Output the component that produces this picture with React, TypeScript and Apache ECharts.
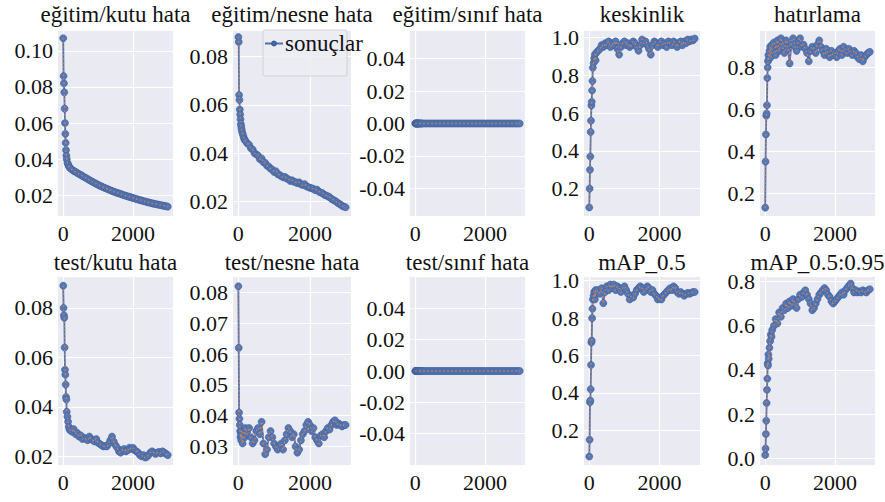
import React, { useEffect, useRef } from 'react';
import * as echarts from 'echarts';

// ---------- data ----------
const X = [
  0, 10, 20, 30, 40, 50, 60, 70, 80, 90, 100, 120, 140, 160, 180, 200,
  250, 300, 350, 400, 450, 500, 550, 600, 650, 700, 750, 800, 850, 900, 950, 1000,
  1050, 1100, 1150, 1200, 1250, 1300, 1350, 1400, 1450, 1500, 1550, 1600, 1650, 1700, 1750, 1800,
  1850, 1900, 1950, 2000, 2050, 2100, 2150, 2200, 2250, 2300, 2350, 2400, 2450, 2500, 2550, 2600,
  2650, 2700, 2750, 2800, 2850, 2900, 2950, 3000,
];

const trainBoxLoss = [
  0.107, 0.086, 0.082, 0.077, 0.068, 0.060, 0.054, 0.049, 0.045, 0.042, 0.040, 0.038, 0.037, 0.0362, 0.0355, 0.035,
  0.0342, 0.0335, 0.033, 0.0324, 0.0318, 0.0313, 0.0307, 0.0301, 0.0296, 0.029, 0.0284, 0.0279, 0.0273, 0.0268, 0.0263, 0.0258,
  0.0253, 0.0249, 0.0244, 0.024, 0.0236, 0.0232, 0.0228, 0.0224, 0.022, 0.0217, 0.0213, 0.021, 0.0207, 0.0203, 0.02, 0.0197,
  0.0194, 0.0191, 0.0188, 0.0185, 0.0182, 0.0179, 0.0176, 0.0173, 0.0171, 0.0168, 0.0165, 0.0163, 0.016, 0.0158, 0.0155, 0.0153,
  0.0151, 0.0149, 0.0147, 0.0145, 0.0143, 0.0141, 0.0139, 0.0137,
];

const trainObjLoss = [
  0.088, 0.086, 0.064, 0.062, 0.058, 0.056, 0.054, 0.052, 0.051, 0.050, 0.049, 0.048, 0.047, 0.046, 0.0455, 0.045,
  0.044, 0.0435, 0.042, 0.0415, 0.040, 0.0395, 0.039, 0.0375, 0.0378, 0.0362, 0.036, 0.0348, 0.0345, 0.0335, 0.0332, 0.0322,
  0.0325, 0.0313, 0.031, 0.0305, 0.030, 0.0302, 0.0295, 0.0292, 0.0285, 0.0288, 0.0282, 0.028, 0.0276, 0.0279, 0.0271, 0.0268,
  0.0272, 0.0263, 0.026, 0.0257, 0.0255, 0.0252, 0.0247, 0.0249, 0.0241, 0.0237, 0.0235, 0.0228, 0.0225, 0.0222, 0.0218, 0.0211,
  0.0207, 0.0203, 0.0198, 0.0192, 0.0188, 0.0182, 0.0179, 0.0176,
];

const trainClsLoss = [
  0, 0, 0, 0, 0, 0, 0, 0, 0, 0, 0, 0, 0, 0, 0, 0,
  0, 0, 0, 0, 0, 0, 0, 0, 0, 0, 0, 0, 0, 0, 0, 0,
  0, 0, 0, 0, 0, 0, 0, 0, 0, 0, 0, 0, 0, 0, 0, 0,
  0, 0, 0, 0, 0, 0, 0, 0, 0, 0, 0, 0, 0, 0, 0, 0,
  0, 0, 0, 0, 0, 0, 0, 0,
];

const precision = [
  0.10, 0.20, 0.30, 0.37, 0.50, 0.56, 0.64, 0.66, 0.72, 0.77, 0.84, 0.865, 0.89, 0.91, 0.88, 0.92,
  0.93, 0.94, 0.96, 0.95, 0.97, 0.96, 0.98, 0.95, 0.97, 0.96, 0.98, 0.94, 0.91, 0.95, 0.97, 0.98,
  0.96, 0.97, 0.95, 0.96, 0.98, 0.97, 0.95, 0.93, 0.96, 0.99, 0.97, 0.98, 0.96, 0.94, 0.91, 0.96,
  0.98, 0.97, 0.95, 0.97, 0.98, 0.96, 0.97, 0.95, 0.98, 0.97, 0.96, 0.98, 0.97, 0.95, 0.97, 0.98,
  0.96, 0.98, 0.97, 0.99, 0.98, 0.99, 0.985, 0.995,
];

const recall = [
  0.13, 0.35, 0.48, 0.57, 0.58, 0.62, 0.75, 0.80, 0.83, 0.86, 0.84, 0.88, 0.90, 0.85, 0.89, 0.91,
  0.92, 0.86, 0.93, 0.88, 0.94, 0.90, 0.87, 0.93, 0.89, 0.82, 0.91, 0.94, 0.90, 0.88, 0.92, 0.94,
  0.90, 0.91, 0.89, 0.87, 0.83, 0.88, 0.90, 0.89, 0.87, 0.91, 0.93, 0.90, 0.88, 0.86, 0.89, 0.87,
  0.85, 0.88, 0.86, 0.87, 0.85, 0.88, 0.89, 0.86, 0.90, 0.88, 0.87, 0.89, 0.87, 0.86, 0.88, 0.87,
  0.85, 0.84, 0.86, 0.83, 0.85, 0.86, 0.87, 0.875,
];

const testBoxLoss = [
  0.089, 0.080, 0.077, 0.076, 0.064, 0.055, 0.053, 0.049, 0.044, 0.043, 0.038, 0.036, 0.034, 0.032, 0.031, 0.0305,
  0.030, 0.031, 0.029, 0.0295, 0.028, 0.0285, 0.027, 0.0275, 0.027, 0.0265, 0.028, 0.027, 0.0265, 0.026, 0.027, 0.0255,
  0.025, 0.0245, 0.024, 0.0242, 0.024, 0.025, 0.0265, 0.028, 0.026, 0.0245, 0.0235, 0.022, 0.0215, 0.0225, 0.023, 0.022,
  0.0225, 0.0235, 0.023, 0.0235, 0.0225, 0.022, 0.0215, 0.0205, 0.020, 0.0205, 0.0195, 0.0198, 0.0205, 0.0215, 0.022, 0.0215,
  0.021, 0.0215, 0.0218, 0.0212, 0.022, 0.0215, 0.021, 0.0205,
];

const testObjLoss = [
  0.082, 0.062, 0.041, 0.039, 0.037, 0.035, 0.033, 0.034, 0.032, 0.035, 0.033, 0.031, 0.034, 0.035, 0.033, 0.036,
  0.034, 0.036, 0.033, 0.031, 0.032, 0.035, 0.036, 0.034, 0.038, 0.031, 0.0275, 0.029, 0.033, 0.035, 0.033, 0.031,
  0.030, 0.029, 0.030, 0.031, 0.029, 0.032, 0.034, 0.036, 0.035, 0.033, 0.034, 0.030, 0.028, 0.029, 0.032, 0.034,
  0.035, 0.037, 0.038, 0.037, 0.035, 0.036, 0.033, 0.032, 0.031, 0.0335, 0.034, 0.033, 0.035, 0.036, 0.0355, 0.037,
  0.038, 0.0385, 0.037, 0.0375, 0.037, 0.0365, 0.037, 0.037,
];

const testClsLoss = [
  0, 0, 0, 0, 0, 0, 0, 0, 0, 0, 0, 0, 0, 0, 0, 0,
  0, 0, 0, 0, 0, 0, 0, 0, 0, 0, 0, 0, 0, 0, 0, 0,
  0, 0, 0, 0, 0, 0, 0, 0, 0, 0, 0, 0, 0, 0, 0, 0,
  0, 0, 0, 0, 0, 0, 0, 0, 0, 0, 0, 0, 0, 0, 0, 0,
  0, 0, 0, 0, 0, 0, 0, 0,
];

const mAP50 = [
  0.06, 0.15, 0.35, 0.36, 0.42, 0.55, 0.67, 0.68, 0.80, 0.85, 0.90, 0.92, 0.94, 0.90, 0.95, 0.93,
  0.95, 0.93, 0.96, 0.88, 0.94, 0.97, 0.95, 0.98, 0.96, 0.98, 0.95, 0.97, 0.96, 0.94, 0.96, 0.97,
  0.95, 0.93, 0.90, 0.92, 0.91, 0.93, 0.95, 0.96, 0.97, 0.96, 0.94, 0.95, 0.97, 0.96, 0.94, 0.95,
  0.93, 0.92, 0.90, 0.91, 0.90, 0.92, 0.93, 0.94, 0.95, 0.96, 0.95, 0.97, 0.96, 0.94, 0.93, 0.94,
  0.93, 0.92, 0.93, 0.935, 0.93, 0.935, 0.94, 0.94,
];

const mAP50_95 = [
  0.015, 0.044, 0.11, 0.17, 0.25, 0.31, 0.36, 0.43, 0.42, 0.47, 0.45, 0.50, 0.53, 0.56, 0.55, 0.58,
  0.60, 0.63, 0.61, 0.66, 0.64, 0.68, 0.67, 0.70, 0.68, 0.71, 0.69, 0.72, 0.70, 0.68, 0.72, 0.74,
  0.73, 0.75, 0.76, 0.74, 0.72, 0.70, 0.67, 0.68, 0.70, 0.72, 0.74, 0.75, 0.76, 0.77, 0.76, 0.74,
  0.73, 0.71, 0.70, 0.71, 0.72, 0.73, 0.74, 0.75, 0.74, 0.76, 0.77, 0.78, 0.79, 0.77, 0.75, 0.76,
  0.75, 0.755, 0.75, 0.76, 0.755, 0.75, 0.76, 0.765,
];

const TITLES = [
  'eğitim/kutu hata', 'eğitim/nesne hata', 'eğitim/sınıf hata', 'keskinlik', 'hatırlama',
  'test/kutu hata', 'test/nesne hata', 'test/sınıf hata', 'mAP_0.5', 'mAP_0.5:0.95',
];
const VALUES = [
  trainBoxLoss, trainObjLoss, trainClsLoss, precision, recall,
  testBoxLoss, testObjLoss, testClsLoss, mAP50, mAP50_95,
];
const Y_TICKS = [
  [0.02, 0.04, 0.06, 0.08, 0.10],
  [0.02, 0.04, 0.06, 0.08],
  [-0.04, -0.02, 0, 0.02, 0.04],
  [0.2, 0.4, 0.6, 0.8, 1.0],
  [0.2, 0.4, 0.6, 0.8],
  [0.02, 0.04, 0.06, 0.08],
  [0.03, 0.04, 0.05, 0.06, 0.07, 0.08],
  [-0.04, -0.02, 0, 0.02, 0.04],
  [0.2, 0.4, 0.6, 0.8, 1.0],
  [0.0, 0.2, 0.4, 0.6, 0.8],
];
const Y_DIGITS = [2, 2, 2, 1, 1, 2, 2, 2, 1, 1];
const Y_MIN = [0.0085, 0.014, -0.057, 0.055, 0.09, 0.0165, 0.024, -0.06, 0.015, -0.03];
const Y_MAX = [0.111, 0.0905, 0.057, 1.035, 0.975, 0.0925, 0.085, 0.06, 1.02, 0.82];
const X_TICKS = [0, 2000];
const X_MIN = -150;
const X_MAX = 3150;
const LEGEND_LABEL = 'sonuçlar';

// ---------- layout & style ----------
const COL_LEFT = [58, 233, 410, 584, 760];
const COL_WIDTH = [115, 118, 115, 116, 115];
const ROW_TOP = [31, 277];
const ROW_HEIGHT = [185, 188];
const TITLE_TOP = [3, 251];
const FONT = 'Liberation Serif';
const TICK_SIZE = 22;
const TITLE_SIZE = 23;
const PLOT_BG = '#EAEAF2';
const LINE_BLUE = '#4C72B0';
const SMOOTH_ORANGE = '#DD8452';
const TEXT_COLOR = '#111111';

export default function App() {
  const ref = useRef<HTMLDivElement>(null);

  useEffect(() => {
    if (!ref.current) return;
    const chart = echarts.init(ref.current, undefined, { renderer: 'svg' });

    const grid: any[] = [];
    const xAxis: any[] = [];
    const yAxis: any[] = [];
    const series: any[] = [];
    const title: any[] = [];

    VALUES.forEach((vals, i) => {
      const row = Math.floor(i / 5);
      const col = i % 5;
      const left = COL_LEFT[col];
      const width = COL_WIDTH[col];
      const top = ROW_TOP[row];
      const height = ROW_HEIGHT[row];
      grid.push({
        left, top, width, height,
        show: true, backgroundColor: PLOT_BG, borderWidth: 0,
      });
      title.push({
        text: TITLES[i],
        left: left + width / 2,
        top: TITLE_TOP[row],
        textAlign: 'center',
        padding: 0,
        textStyle: { fontFamily: FONT, fontSize: TITLE_SIZE, fontWeight: 'normal', color: TEXT_COLOR },
      });
      xAxis.push({
        type: 'value', gridIndex: i, min: X_MIN, max: X_MAX,
        axisLine: { show: false },
        axisTick: { show: false, customValues: X_TICKS },
        axisLabel: {
          customValues: X_TICKS, margin: 6,
          fontFamily: FONT, fontSize: TICK_SIZE, color: TEXT_COLOR,
          formatter: (v: number) => String(Math.round(v)),
        },
        splitLine: { show: true, lineStyle: { color: '#ffffff', width: 1.2 } },
      });
      const digits = Y_DIGITS[i];
      yAxis.push({
        type: 'value', gridIndex: i, min: Y_MIN[i], max: Y_MAX[i],
        axisLine: { show: false },
        axisTick: { show: false, customValues: Y_TICKS[i] },
        axisLabel: {
          customValues: Y_TICKS[i], margin: 5,
          fontFamily: FONT, fontSize: TICK_SIZE, color: TEXT_COLOR,
          formatter: (v: number) => v.toFixed(digits),
        },
        splitLine: { show: true, lineStyle: { color: '#ffffff', width: 1.2 } },
      });
      const data = X.map((x, k) => [x, vals[k]]);
      series.push({
        name: LEGEND_LABEL,
        type: 'line',
        xAxisIndex: i, yAxisIndex: i,
        data,
        symbol: 'circle',
        symbolSize: 7,
        lineStyle: { color: LINE_BLUE, width: 1.8 },
        itemStyle: { color: '#5577B4', borderColor: '#3E5F9C', borderWidth: 0.6 },
        z: 2,
      });
      series.push({
        name: 'smooth',
        type: 'line',
        xAxisIndex: i, yAxisIndex: i,
        data,
        smooth: 0.5,
        showSymbol: false,
        symbol: 'none',
        lineStyle: { color: SMOOTH_ORANGE, width: 1.4, type: [1.5, 2.5], opacity: 0.85 },
        z: 3,
      });
    });

    chart.setOption({
      animation: false,
      backgroundColor: '#ffffff',
      title,
      grid,
      xAxis,
      yAxis,
      series,
      legend: {
        data: [LEGEND_LABEL],
        left: 264,
        top: 32,
        padding: 0,
        itemWidth: 18,
        itemHeight: 5,
        itemGap: 2,
        textStyle: { fontFamily: FONT, fontSize: TITLE_SIZE, color: TEXT_COLOR, padding: [0, 0, 0, -3] },
        z: 6,
      },
      graphic: [
        {
          type: 'rect',
          z: 5,
          shape: { x: 263, y: 30, width: 84, height: 46, r: 2 },
          style: { fill: 'rgba(236,236,243,0.85)', stroke: '#d0d0d8', lineWidth: 1 },
        },
      ],
    });

    return () => chart.dispose();
  }, []);

  return (
    <div
      ref={ref}
      style={{ position: 'fixed', left: 0, top: 0, width: 885, height: 502 }}
    />
  );
}
